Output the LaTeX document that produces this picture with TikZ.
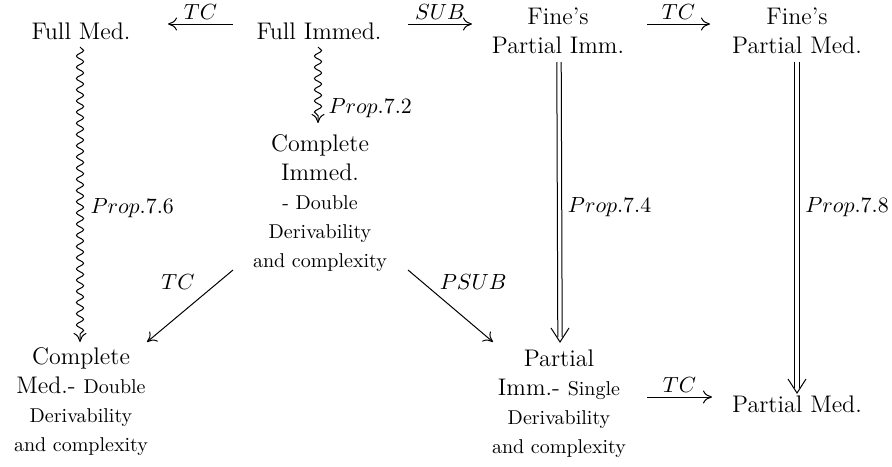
\documentclass[tikz,border=0pt]{standalone}
\usepackage{fontspec}
\usetikzlibrary{arrows.meta,decorations.pathmorphing}
\newcommand\smtext{\fontsize{10}{14.5}\selectfont}
\begin{document}
\begin{tikzpicture}[x=0.5pt,y=-0.5pt,
  main/.style={inner sep=0pt, align=center, font=\fontsize{12}{14.5}\selectfont},
  lbl/.style={inner sep=0pt, font=\fontsize{10.95}{13}\selectfont},
  arr/.style={line width=0.5pt, -{Computer Modern Rightarrow[length=4.5pt,width=6.5pt]}},
  sq/.style={arr, decorate, decoration={snake, amplitude=1.8pt, segment length=5.6pt, post length=3.5pt}},
  dblline/.style={line width=0.5pt},
  dbltip/.style={line width=0.5pt, line join=miter}]
\useasboundingbox (0,0) rectangle (892,466);
% nodes
\node[main] (FM) at (81,31) {Full Med.};
\node[main] (FI) at (319,31) {Full Immed.};
\node[main] (FPI) at (558,31) {Fine's\\Partial Imm.};
\node[main] (FPM) at (797,31) {Fine's\\Partial Med.};
\node[main] (CI) at (320,203) {Complete\\Immed.\\{\smtext - Double}\\{\smtext Derivability}\\{\smtext and complexity}};
\node[main] (CM) at (81,402) {Complete\\Med.- {\smtext Double}\\{\smtext Derivability}\\{\smtext and complexity}};
\node[main] (PI) at (559,404) {Partial\\Imm.- {\smtext Single}\\{\smtext Derivability}\\{\smtext and complexity}};
\node[main] (PM) at (797,404) {Partial Med.};
% horizontal arrows
\draw[arr] ([shift={(-86,-7)}]FI.center) -- node[lbl,above=2pt]{$TC$} ([shift={(87,-7)}]FM.center);
\draw[arr] ([shift={(89,-7)}]FI.center) -- node[lbl,above=2pt]{$SUB$} ([shift={(-86,-7)}]FPI.center);
\draw[arr] ([shift={(89,-7)}]FPI.center) -- node[lbl,above=2pt]{$TC$} ([shift={(-87,-7)}]FPM.center);
\draw[arr] ([shift={(88,-7)}]PI.center) -- node[lbl,above=2pt]{$TC$} ([shift={(-85,-7)}]PM.center);
% squiggly arrows
\draw[sq] ([shift={(-1,16)}]FI.center) -- node[lbl,pos=0.8,right=5pt]{$Prop.7.2$} ([shift={(-2,-80)}]CI.center);
\draw[sq] ([shift={(-1,16)}]FM.center) -- node[lbl,pos=0.546,right=5pt]{$Prop.7.6$} ([shift={(-1,-60)}]CM.center);
% double arrows
\coordinate (d1s) at ([shift={(1,31)}]FPI.center);
\coordinate (d1e) at ([shift={(1,-62)}]PI.center);
\coordinate (d2s) at ([shift={(0,31)}]FPM.center);
\coordinate (d2e) at ([shift={(0,-11)}]PM.center);
\draw[dblline] ([xshift=-1.1pt]d1s) -- ([xshift=-1.1pt,yshift=2.5pt]d1e);
\draw[dblline] ([xshift=1.1pt]d1s) -- ([xshift=1.1pt,yshift=2.5pt]d1e);
\draw[dbltip] ([shift={(-4.5pt,7pt)}]d1e) -- (d1e) -- ([shift={(4.5pt,7pt)}]d1e);
\path (d1s) -- node[lbl,pos=0.52,right=4pt]{$Prop.7.4$} (d1e);
\draw[dblline] ([xshift=-1.1pt]d2s) -- ([xshift=-1.1pt,yshift=2.5pt]d2e);
\draw[dblline] ([xshift=1.1pt]d2s) -- ([xshift=1.1pt,yshift=2.5pt]d2e);
\draw[dbltip] ([shift={(-4.5pt,7pt)}]d2e) -- (d2e) -- ([shift={(4.5pt,7pt)}]d2e);
\path (d2s) -- node[lbl,pos=0.44,right=4pt]{$Prop.7.8$} (d2e);
% diagonal arrows
\draw[arr] ([shift={(-87,67)}]CI.center) -- node[lbl,pos=0.25,xshift=-16.75pt,yshift=3pt]{$TC$} ([shift={(66,-60)}]CM.center);
\draw[arr] ([shift={(88,67)}]CI.center) -- node[lbl,pos=0.25,xshift=22pt,yshift=3pt]{$PSUB$} ([shift={(-66,-62)}]PI.center);
\end{tikzpicture}
\end{document}
